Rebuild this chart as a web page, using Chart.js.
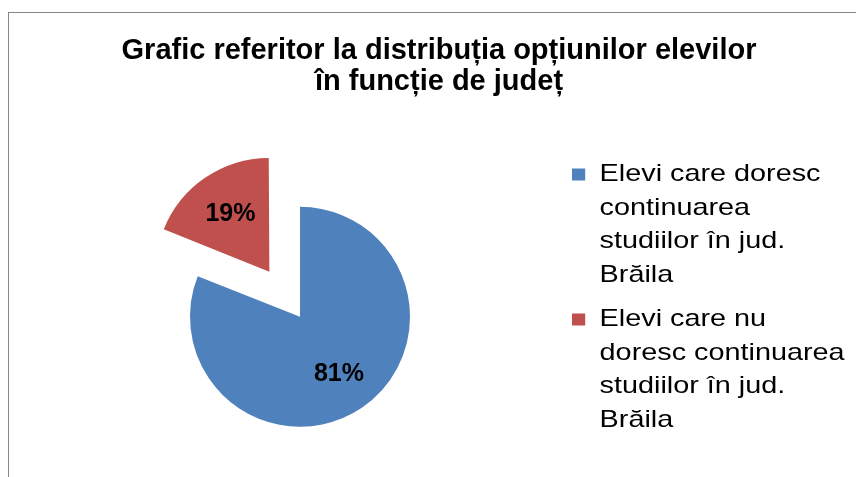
<!DOCTYPE html>
<html>
<head>
<meta charset="utf-8">
<script src="https://cdn.jsdelivr.net/npm/chart.js@4.4.1/dist/chart.umd.min.js"></script>
<style>
  html, body { margin: 0; padding: 0; background: #fff; overflow: hidden; }
  #frame { position: absolute; left: 8px; top: 12px; width: 900px; height: 500px; border: 1px solid #888; }
  #wrap { position: absolute; left: 0; top: 0; width: 856px; height: 490px; }
</style>
</head>
<body>
<div id="frame"></div>
<div id="wrap"><canvas id="pieChart"></canvas></div>
<script>
// chart data
const titleLines = ["Grafic referitor la distribuția opțiunilor elevilor", "în funcție de județ"]
const categories = [
  ["Elevi care doresc", "continuarea", "studiilor în jud.", "Brăila"],
  ["Elevi care nu", "doresc continuarea", "studiilor în jud.", "Brăila"]
]
const values = [81, 19]
const colors = ["#4F81BD", "#C0504D"]
const explode = [0, 218]

const FONT = '"Liberation Sans", Arial, sans-serif'

// fixed legend width; the original legend is drawn horizontally stretched
const legendTweaks = {
  id: 'legendTweaks',
  beforeInit(chart) {
    const legend = chart.legend
    const fit = legend.fit
    legend.fit = function () {
      fit.call(this)
      this.width = 278
    }
    const draw = legend.draw
    legend.draw = function () {
      const ctx = this.ctx
      const x0 = this.left + this.options.labels.padding
      ctx.save()
      ctx.translate(x0, 0)
      ctx.scale(1.2, 1)
      ctx.translate(-x0, 0)
      draw.call(this)
      ctx.restore()
    }
  }
}

// percentage labels inside the slices
const percentLabels = {
  id: 'percentLabels',
  afterDatasetsDraw(chart) {
    const ctx = chart.ctx
    const meta = chart.getDatasetMeta(0)
    const total = values.reduce((a, b) => a + b, 0)
    ctx.save()
    ctx.font = 'bold 25px ' + FONT
    ctx.fillStyle = '#000'
    ctx.textAlign = 'center'
    ctx.textBaseline = 'middle'
    meta.data.forEach((arc, i) => {
      const p = arc.getProps(['x', 'y', 'startAngle', 'endAngle', 'outerRadius'], true)
      const mid = (p.startAngle + p.endAngle) / 2
      const r = p.outerRadius * 0.63 + (arc.options.offset || 0) / 4
      ctx.fillText(Math.round(values[i] / total * 100) + '%', p.x + Math.cos(mid) * r, p.y + Math.sin(mid) * r)
    })
    ctx.restore()
  }
}

new Chart(document.getElementById('pieChart'), {
  type: 'pie',
  data: {
    labels: categories,
    datasets: [{
      data: values,
      backgroundColor: colors,
      borderWidth: 0,
      offset: explode,
      radius: 110
    }]
  },
  options: {
    responsive: true,
    maintainAspectRatio: false,
    animation: false,
    layout: { padding: { left: 39, right: 17, top: 0, bottom: 8 } },
    plugins: {
      title: {
        display: true,
        text: titleLines,
        color: '#000',
        font: { family: FONT, size: 29, weight: 'bold', lineHeight: 1.07 },
        padding: { top: 35.5, bottom: 54 }
      },
      legend: {
        position: 'right',
        align: 'start',
        fullSize: false,
        labels: {
          color: '#000',
          font: { family: FONT, size: 24, lineHeight: 1.396 },
          boxWidth: 11,
          boxHeight: 12,
          padding: 11
        }
      },
      tooltip: { enabled: false }
    }
  },
  plugins: [legendTweaks, percentLabels]
})
</script>
</body>
</html>
